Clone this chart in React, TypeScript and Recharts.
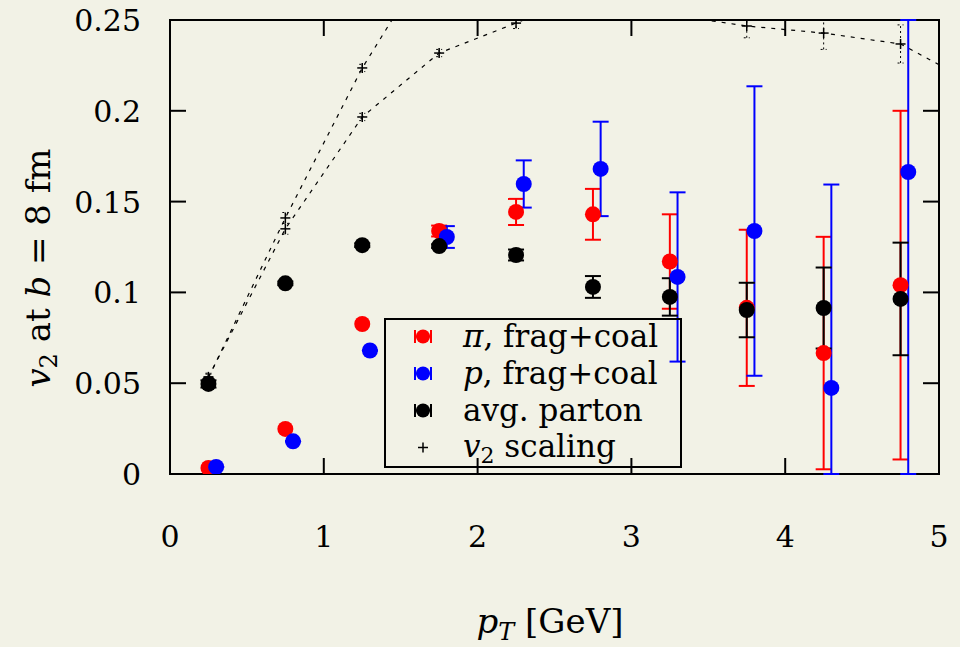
import React from 'react';
import { ComposedChart, Scatter, Line, XAxis, YAxis, ErrorBar, ReferenceArea, Legend } from 'recharts';

const BG = '#f2f2e6';
const FONT = "'DejaVu Serif', 'Liberation Serif', serif";

// Data
const pT = [0.25, 0.75, 1.25, 1.75, 2.25, 2.75, 3.25, 3.75, 4.25, 4.75];
const pTp = [0.3, 0.8, 1.3, 1.8, 2.3, 2.8, 3.3, 3.8, 4.3, 4.8];
const piV2 = [0.0033, 0.0248, 0.0826, 0.1338, 0.1443, 0.143, 0.117, 0.0915, 0.0666, 0.104];
const piErr = [0, 0, 0, 0.003, 0.0072, 0.014, 0.026, 0.043, 0.064, 0.096];
const pV2 = [0.0039, 0.018, 0.068, 0.1305, 0.1597, 0.168, 0.1085, 0.1338, 0.0474, 0.1663];
const pErrLo = [0, 0, 0, 0.006, 0.013, 0.026, 0.0466, 0.0797, 0.0474, 0.1663];
const pErrHi = [0, 0, 0, 0.006, 0.013, 0.026, 0.0466, 0.0797, 0.112, 0.0837];
const partonV2 = [0.0496, 0.105, 0.126, 0.1255, 0.1206, 0.103, 0.0975, 0.0903, 0.0914, 0.0964];
const partonErr = [0.002, 0.001, 0.001, 0.001, 0.003, 0.006, 0.0103, 0.015, 0.0223, 0.031];

const piScaleX = [0.25, 0.75, 1.25, 1.75, 2.25, 2.75, 3.25, 3.75, 4.25, 4.75, 5.25];
const piScaleV2 = [0.0535, 0.135, 0.1966, 0.2318, 0.2483, 0.265, 0.253, 0.2467, 0.2428, 0.2368, 0.214];
const piScaleErrLo = [0.002, 0.003, 0.002, 0.002, 0.003, 0, 0, 0.0065, 0.009, 0.0105, 0];
const piScaleErrHi = [0.002, 0.003, 0.002, 0.002, 0.0017, 0, 0, 0.0033, 0.0072, 0.0105, 0];
const pScaleX = [0.25, 0.75, 1.25, 1.75];
const pScaleV2 = [0.053, 0.141, 0.2236, 0.292];
const pScaleErr = [0.002, 0.003, 0.002, 0];

const xTicks = [0, 1, 2, 3, 4, 5];
const yTicks = [0, 0.05, 0.1, 0.15, 0.2, 0.25];

const piData = pT.map((x, i) => ({ x, y: piV2[i], err: piErr[i] }));
const pData = pTp.map((x, i) => ({ x, y: pV2[i], err: [pErrLo[i], pErrHi[i]] }));
const partonData = pT.map((x, i) => ({ x, y: partonV2[i], err: partonErr[i] }));
const piScaleData = piScaleX.map((x, i) => ({
  x,
  y: piScaleV2[i],
  err: piScaleErrLo[i] || piScaleErrHi[i] ? [piScaleErrLo[i], piScaleErrHi[i]] : 0,
}));
const pScaleData = pScaleX.map((x, i) => ({ x, y: pScaleV2[i], err: pScaleErr[i] }));

const PLOT_L = 170;
const PLOT_R = 939;
const PLOT_T = 20;
const PLOT_B = 474;
const TICK = 16;
const FS = 30;
const TITLE_FS = 34;

const XTick = (props: any) => {
  const { x, payload } = props;
  return (
    <g>
      <line x1={x} y1={PLOT_B} x2={x} y2={PLOT_B - TICK} stroke="#000" strokeWidth={2} />
      <line x1={x} y1={PLOT_T} x2={x} y2={PLOT_T + TICK} stroke="#000" strokeWidth={2} />
      <text x={x} y={547} textAnchor="middle" fontFamily={FONT} fontSize={FS} fill="#000">
        {String(payload.value)}
      </text>
    </g>
  );
};

const YTick = (props: any) => {
  const { y, payload } = props;
  return (
    <g>
      <line x1={PLOT_L} y1={y} x2={PLOT_L + TICK} y2={y} stroke="#000" strokeWidth={2} />
      <line x1={PLOT_R} y1={y} x2={PLOT_R - TICK} y2={y} stroke="#000" strokeWidth={2} />
      <text x={141} y={y + 11} textAnchor="end" fontFamily={FONT} fontSize={FS} fill="#000">
        {String(payload.value)}
      </text>
    </g>
  );
};

const YTitle = () => (
  <text
    x={50}
    y={268}
    transform="rotate(-90, 50, 268)"
    textAnchor="middle"
    fontFamily={FONT}
    fontSize={TITLE_FS}
    fill="#000"
  >
    <tspan fontStyle="italic">v</tspan>
    <tspan fontSize={24} dy={7}>2</tspan>
    <tspan dy={-7}> at </tspan>
    <tspan fontStyle="italic">b</tspan>
    <tspan> = 8 fm</tspan>
  </text>
);

const XTitle = () => (
  <text x={550} y={633} textAnchor="middle" fontFamily={FONT} fontSize={TITLE_FS} fill="#000">
    <tspan fontStyle="italic">p</tspan>
    <tspan fontStyle="italic" fontSize={24} dy={7}>T</tspan>
    <tspan dy={-7}> [GeV]</tspan>
  </text>
);

const makeCircle = (color: string) => (props: any) => {
  const { cx, cy } = props;
  if (cx == null || cy == null) return <g />;
  return <circle cx={cx} cy={cy} r={8} fill={color} />;
};

const PlusDot = (props: any) => {
  const { cx, cy, index } = props;
  if (cx == null || cy == null || cy < PLOT_T - 1 || cx > PLOT_R + 1) return <g key={index} />;
  return (
    <g key={index}>
      <line x1={cx - 5} y1={cy} x2={cx + 5} y2={cy} stroke="#000" strokeWidth={1.5} />
      <line x1={cx} y1={cy - 5} x2={cx} y2={cy + 5} stroke="#000" strokeWidth={1.5} />
    </g>
  );
};

const legendItems = [
  { color: '#ff0000', kind: 'dot', label: <><i>π</i>, frag+coal</> },
  { color: '#0000ff', kind: 'dot', label: <><i>p</i>, frag+coal</> },
  { color: '#000000', kind: 'dot', label: <>avg. parton</> },
  { color: '#000000', kind: 'plus', label: <><i>v</i><span style={{ fontSize: 22, position: 'relative', top: 6 }}>2</span> scaling</> },
];

const LegendBox = () => (
  <div
    style={{
      width: 298,
      height: 150,
      border: '2px solid #000',
      boxSizing: 'border-box',
      fontFamily: FONT,
      fontSize: 31,
      position: 'relative',
      color: '#000',
    }}
  >
    {legendItems.map((it, i) => (
      <div
        key={i}
        style={{ position: 'absolute', left: -2, top: -2 + i * 37, height: 37, display: 'flex', alignItems: 'center', whiteSpace: 'nowrap' }}
      >
        <svg width={79} height={37} style={{ display: 'block' }}>
          {it.kind === 'dot' ? (
            <g>
              <line x1={31} y1={18.5} x2={47} y2={18.5} stroke={it.color} strokeWidth={2} />
              <line x1={31} y1={12} x2={31} y2={25} stroke={it.color} strokeWidth={2} />
              <line x1={47} y1={12} x2={47} y2={25} stroke={it.color} strokeWidth={2} />
              <circle cx={39} cy={18.5} r={7} fill={it.color} />
            </g>
          ) : (
            <g>
              <line x1={34} y1={18.5} x2={44} y2={18.5} stroke="#000" strokeWidth={1.5} />
              <line x1={39} y1={13.5} x2={39} y2={23.5} stroke="#000" strokeWidth={1.5} />
            </g>
          )}
        </svg>
        <span style={{ lineHeight: '37px' }}>{it.label}</span>
      </div>
    ))}
  </div>
);

export default function App() {
  return (
    <div style={{ position: 'absolute', left: 0, top: 0, width: 960, height: 647, background: BG }}>
      <ComposedChart width={960} height={647} margin={{ top: 20, right: 21, bottom: 0, left: 0 }}>
        <XAxis
          type="number"
          dataKey="x"
          domain={[0, 5]}
          ticks={xTicks}
          allowDataOverflow
          height={173}
          axisLine={false}
          tickLine={false}
          tick={<XTick />}
          label={<XTitle />}
        />
        <YAxis
          type="number"
          dataKey="y"
          domain={[0, 0.25]}
          ticks={yTicks}
          allowDataOverflow
          width={170}
          axisLine={false}
          tickLine={false}
          tick={<YTick />}
          label={<YTitle />}
        />
        <ReferenceArea x1={0} x2={5} y1={0} y2={0.25} fill="none" fillOpacity={0} stroke="#000" strokeWidth={2} ifOverflow="visible" />
        <Line
          data={piScaleData}
          dataKey="y"
          type="linear"
          stroke="#000"
          strokeWidth={1.2}
          strokeDasharray="4 6"
          dot={<PlusDot />}
          isAnimationActive={false}
        >
          <ErrorBar dataKey="err" direction="y" width={3} stroke="#000" strokeWidth={1} strokeDasharray="2 3" />
        </Line>
        <Line
          data={pScaleData}
          dataKey="y"
          type="linear"
          stroke="#000"
          strokeWidth={1.2}
          strokeDasharray="4 6"
          dot={<PlusDot />}
          isAnimationActive={false}
        >
          <ErrorBar dataKey="err" direction="y" width={3} stroke="#000" strokeWidth={1} strokeDasharray="2 3" />
        </Line>
        <Scatter data={piData} dataKey="y" shape={makeCircle('#ff0000')} isAnimationActive={false}>
          <ErrorBar dataKey="err" direction="y" width={8} stroke="#ff0000" strokeWidth={2} />
        </Scatter>
        <Scatter data={pData} dataKey="y" shape={makeCircle('#0000ff')} isAnimationActive={false}>
          <ErrorBar dataKey="err" direction="y" width={8} stroke="#0000ff" strokeWidth={2} />
        </Scatter>
        <Scatter data={partonData} dataKey="y" shape={makeCircle('#000000')} isAnimationActive={false}>
          <ErrorBar dataKey="err" direction="y" width={8} stroke="#000000" strokeWidth={2} />
        </Scatter>
        <Legend
          layout="vertical"
          align="center"
          verticalAlign="middle"
          content={<LegendBox />}
          wrapperStyle={{ position: 'absolute', left: 384, top: 318, width: 298, height: 150 }}
        />
      </ComposedChart>
    </div>
  );
}
